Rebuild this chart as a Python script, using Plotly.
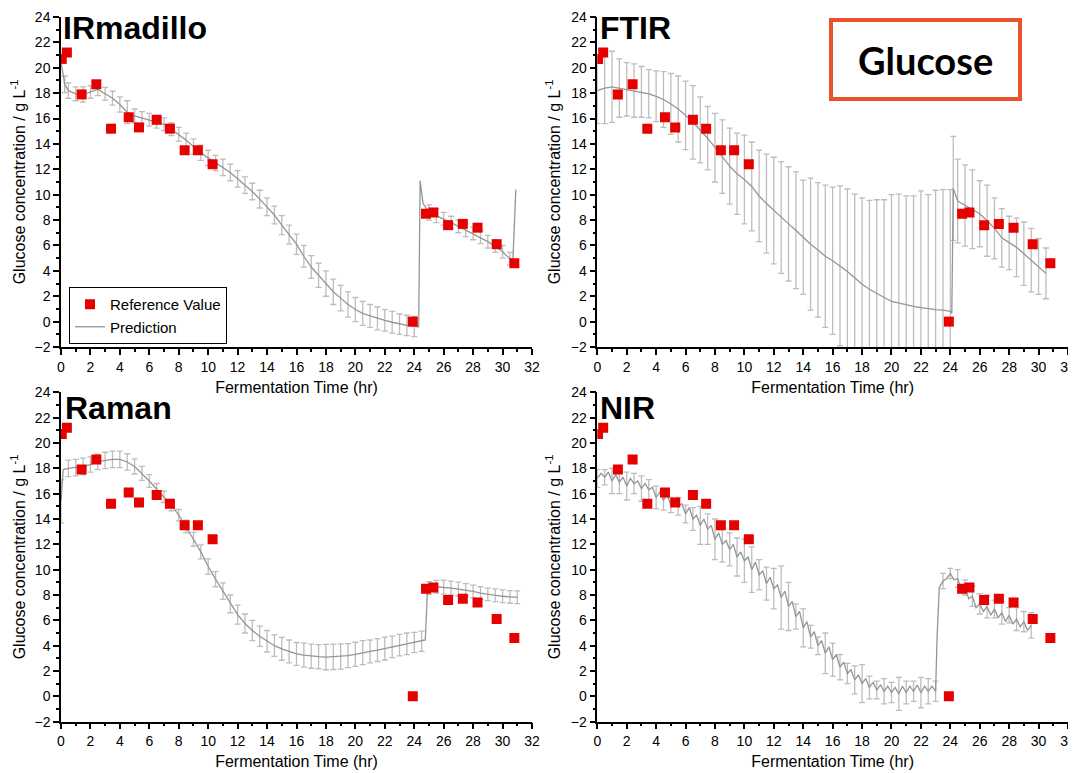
import plotly.graph_objects as go
from plotly.subplots import make_subplots

# %%
# off-line reference glucose (same samples shown in every panel)
ref_time = [0.05, 0.4, 1.4, 2.4, 3.4, 4.6, 5.3, 6.5, 7.4, 8.4, 9.3, 10.3,
            23.9, 24.8, 25.3, 26.3, 27.3, 28.3, 29.6, 30.8]
ref_glucose = [20.7, 21.2, 17.9, 18.7, 15.2, 16.1, 15.3, 15.9, 15.2, 13.5, 13.5, 12.4,
               0.0, 8.5, 8.6, 7.6, 7.7, 7.4, 6.1, 4.6]

# IRmadillo prediction (None = no error bar drawn at that point)
irm_time = [0, 0.25, 0.5, 1, 1.5, 2, 2.5, 3, 3.5, 4, 4.5, 5, 5.5, 6, 6.5, 7, 7.5, 8,
            8.5, 9, 9.5, 10, 10.5, 11, 11.5, 12, 12.5, 13, 13.5, 14, 14.5, 15, 15.5, 16,
            16.5, 17, 17.5, 18, 18.5, 19, 19.5, 20, 20.5, 21, 21.5, 22, 22.5, 23, 23.5, 24,
            24.3, 24.4, 24.6, 25, 25.5, 26, 26.5, 27, 27.5, 28, 28.5, 29, 29.5, 30, 30.5,
            30.7, 30.9]
irm_pred = [20.5, 18.7, 18.2, 17.95, 17.9, 18.1, 18.3, 17.95, 17.6, 17.1, 16.5, 16.2,
            16.05, 15.9, 15.75, 15.55, 15.15, 14.75, 14.3, 13.8, 13.3, 12.9, 12.5, 12.15,
            11.75, 11.25, 10.75, 10.25, 9.65, 9.05, 8.4, 7.6, 6.85, 6.1, 5.15, 4.3, 3.65,
            3.0, 2.35, 1.85, 1.35, 0.95, 0.65, 0.45, 0.25, 0.1, -0.05, -0.2, -0.3, -0.38,
            -0.42, 11.1, 9.3, 8.6, 8.35, 8.1, 7.8, 7.5, 7.2, 6.95, 6.65, 6.3, 5.95, 5.5,
            4.95, 4.75, 10.4]
irm_err = [None, 0.65, 0.6, 0.55, 0.6, 0.5, 0.5, 0.5, 0.55, 0.6, 0.9, 0.55, 0.5, 0.5,
           0.5, 0.5, 0.5, 0.55, 0.55, 0.6, 0.6, 0.6, 0.6, 0.65, 0.65, 0.65, 0.65, 0.65,
           0.7, 0.7, 0.7, 0.75, 0.75, 0.8, 0.85, 0.9, 0.95, 1.0, 1.0, 1.0, 1.0, 0.95, 0.95,
           0.9, 0.9, 0.85, 0.85, 0.8, 0.8, 0.8, None, None, None, 0.6, 0.55, 0.5, 0.5,
           0.5, 0.5, 0.5, 0.5, 0.5, 0.5, 0.5, 0.5, None, None]

# FTIR prediction
ftir_time = [0, 0.5, 1, 1.5, 2, 2.5, 3, 3.5, 4, 4.5, 5, 5.5, 6, 6.5, 7, 7.5, 8, 8.5, 9,
             9.5, 10, 10.5, 11, 11.5, 12, 12.5, 13, 13.5, 14, 14.5, 15, 15.5, 16, 16.5,
             17, 17.5, 18, 18.5, 19, 19.5, 20, 20.5, 21, 21.5, 22, 22.5, 23, 23.5, 24,
             24.1, 24.2, 24.5, 25, 25.5, 26, 26.5, 27, 27.5, 28, 28.5, 29, 29.5, 30, 30.5]
ftir_pred = [18.2, 18.4, 18.5, 18.4, 18.3, 18.2, 18.1, 17.95, 17.75, 17.5, 17.15, 16.75,
             16.25, 15.7, 15.1, 14.45, 13.7, 13.0, 12.25, 11.65, 11.2, 10.65, 9.9, 9.3,
             8.75, 8.2, 7.7, 7.2, 6.65, 6.1, 5.65, 5.15, 4.8, 4.4, 3.95, 3.45, 2.95, 2.55,
             2.2, 1.9, 1.6, 1.45, 1.3, 1.2, 1.1, 1.0, 0.95, 0.9, 0.8, 0.65, 10.5, 9.5,
             9.15, 8.85, 8.5, 7.95, 7.35, 6.6, 6.2, 5.85, 5.35, 4.85, 4.35, 3.8]
ftir_err = [2.6, 2.8, 2.8, 2.3, 2.1, 2.1, 2.0, 1.9, 2.0, 2.2, 2.4, 2.6, 2.7, 2.9, 2.6,
            2.5, 2.7, 2.9, 3.0, 3.2, 3.5, 3.5, 3.6, 3.9, 4.2, 4.4, 4.5, 4.6, 4.5, 5.2, 5.3,
            5.6, 5.8, 6.3, 6.5, 6.6, 6.8, 7.0, 7.4, 7.7, 8.4, 8.6, 8.6, 8.7, 9.2, 9.0,
            9.4, 9.5, 9.6, None, 4.1, 3.3, 3.2, 3.1, 2.6, 2.8, 2.4, 2.3, 2.1, 2.3, 2.5,
            2.5, 2.2, 2.0]

# Raman prediction
raman_time = [0, 0.15, 0.5, 1, 1.5, 2, 2.5, 3, 3.5, 4, 4.5, 5, 5.5, 6, 6.5, 7, 7.5, 8,
              8.5, 9, 9.5, 10, 10.5, 11, 11.5, 12, 12.5, 13, 13.5, 14, 14.5, 15, 15.5,
              16, 16.5, 17, 17.5, 18, 18.5, 19, 19.5, 20, 20.5, 21, 21.5, 22, 22.5, 23,
              23.5, 24, 24.5, 24.75, 24.9, 25, 25.5, 26, 26.5, 27, 27.5, 28, 28.5, 29,
              29.5, 30, 30.5, 31]
raman_pred = [15.4, 17.9, 18.0, 18.05, 18.15, 18.3, 18.5, 18.62, 18.7, 18.7, 18.5, 18.15,
              17.6, 17.0, 16.35, 15.75, 15.1, 14.3, 13.4, 12.4, 11.4, 10.25, 9.25, 8.3,
              7.3, 6.45, 5.75, 5.2, 4.75, 4.35, 4.0, 3.75, 3.55, 3.35, 3.25, 3.17, 3.13,
              3.1, 3.12, 3.15, 3.22, 3.32, 3.45, 3.55, 3.65, 3.77, 3.9, 4.05, 4.15, 4.25,
              4.35, 4.45, 8.5, 8.55, 8.65, 8.62, 8.55, 8.47, 8.4, 8.28, 8.15, 8.05, 7.98,
              7.9, 7.85, 7.82]
raman_err = [1.7, None, 0.65, 0.65, 0.65, 0.6, 0.6, 0.65, 0.65, 0.65, 0.65, 0.6, 0.55,
             0.5, 0.45, 0.45, 0.45, 0.45, 0.5, 0.55, 0.55, 0.6, 0.6, 0.65, 0.7, 0.75,
             0.75, 0.8, 0.8, 0.85, 0.85, 0.9, 0.9, 0.9, 0.95, 0.95, 0.95, 1.0, 1.0, 1.0,
             0.95, 0.95, 0.95, 0.9, 0.9, 0.9, 0.85, 0.85, 0.85, 0.8, 0.8, None, None, 0.5,
             0.5, 0.55, 0.55, 0.55, 0.5, 0.5, 0.5, 0.5, 0.5, 0.5, 0.5, 0.5]

# NIR prediction (noisy, sampled every 0.25 h; bars every 0.5 h)
nir_time = [0, 0.25, 0.5, 0.75, 1, 1.25, 1.5, 1.75, 2, 2.25, 2.5, 2.75, 3, 3.25, 3.5,
            3.75, 4, 4.25, 4.5, 4.75, 5, 5.25, 5.5, 5.75, 6, 6.25, 6.5, 6.75, 7, 7.25,
            7.5, 7.75, 8, 8.25, 8.5, 8.75, 9, 9.25, 9.5, 9.75, 10, 10.25, 10.5, 10.75, 11,
            11.25, 11.5, 11.75, 12, 12.25, 12.5, 12.75, 13, 13.25, 13.5, 13.75, 14, 14.25,
            14.5, 14.75, 15, 15.25, 15.5, 15.75, 16, 16.25, 16.5, 16.75, 17, 17.25, 17.5,
            17.75, 18, 18.25, 18.5, 18.75, 19, 19.25, 19.5, 19.75, 20, 20.25, 20.5, 20.75,
            21, 21.25, 21.5, 21.75, 22, 22.25, 22.5, 22.75, 23, 23.1, 23.25, 23.5, 23.75,
            24, 24.25, 24.5, 24.75, 25, 25.25, 25.5, 25.75, 26, 26.25, 26.5, 26.75, 27,
            27.25, 27.5, 27.75, 28, 28.25, 28.5, 28.75, 29, 29.25, 29.5]
nir_pred = [17.2, 17.6, 17.3, 17.7, 17.0, 17.5, 16.9, 17.3, 16.6, 17.2, 16.8, 17.0, 16.4,
            16.8, 16.3, 16.5, 15.7, 16.1, 15.5, 15.9, 15.1, 15.6, 15.0, 15.2, 14.4, 14.9,
            14.0, 14.3, 13.5, 14.0, 13.2, 13.5, 12.4, 12.9, 12.0, 12.3, 11.6, 12.0, 11.0,
            11.4, 10.7, 11.0, 10.0, 10.6, 9.6, 9.9, 8.9, 9.4, 8.5, 8.8, 7.8, 8.3, 7.1, 7.5,
            6.3, 6.7, 5.4, 5.9, 4.7, 5.1, 4.0, 4.4, 3.4, 3.9, 2.9, 3.3, 2.3, 2.7, 1.8, 2.1,
            1.3, 1.7, 1.0, 1.4, 0.7, 1.1, 0.5, 0.9, 0.4, 0.8, 0.3, 0.7, 0.2, 0.8, 0.3, 0.8,
            0.4, 0.9, 0.3, 0.8, 0.4, 0.8, 0.4, 4.7, 8.6, 9.1, 9.3, 9.7, 9.2, 9.3, 8.5, 8.6,
            7.7, 7.9, 7.0, 7.3, 6.7, 7.1, 6.4, 6.9, 6.2, 6.6, 5.9, 6.4, 5.7, 6.1, 5.5, 5.9,
            5.2, 5.6]
nir_err = [0.7, None, 0.6, None, 1.0, None, 0.9, None, 1.1, None, 0.8, None, 1.0, None,
           0.8, None, 0.9, None, 0.8, None, 0.6, None, 0.7, None, 0.7, None, 0.9, None,
           1.5, None, 1.2, None, 1.6, None, 1.4, None, 1.3, None, 1.5, None, 1.7, None,
           1.8, None, 1.2, None, 1.3, None, 1.6, None, 2.5, None, 1.9, None, 1.0, None,
           1.5, None, 0.9, None, 0.7, None, 1.6, None, 1.3, None, 1.0, None, 0.8, None,
           1.1, None, 1.5, None, 0.9, None, 0.7, None, 1.0, None, 0.8, None, 1.3, None,
           0.9, None, 0.8, None, 1.2, None, 1.0, None, 0.8, None, None, 0.6, None, 0.4,
           None, 0.7, None, 0.6, None, 0.8, None, 0.8, None, 0.9, None, 0.7, None, 0.9,
           None, 0.6, None, 0.9, None, 0.8, None, 1.0]

panels = [
    ("IRmadillo", irm_time, irm_pred, irm_err),
    ("FTIR", ftir_time, ftir_pred, ftir_err),
    ("Raman", raman_time, raman_pred, raman_err),
    ("NIR", nir_time, nir_pred, nir_err),
]

FONT = "Liberation Sans, Arial, sans-serif"
RED = "#E60000"
LINE_GREY = "#959595"
ERR_GREY = "#BDBDBD"

# the page body adds an 8 px margin, so the figure is a bit smaller than the window
PAGE_OFF = 8
W, H = 1076 - PAGE_OFF, 773 - PAGE_OFF


def px_x(x):
    return (x - PAGE_OFF) / W


def px_y(y):
    return 1 - (y - PAGE_OFF) / H


# %%
fig = make_subplots(rows=2, cols=2)

for i, (label, t, g, e) in enumerate(panels):
    row, col = i // 2 + 1, i % 2 + 1
    keep = [k for k, v in enumerate(e) if v is not None]
    # error bars only (invisible markers)
    fig.add_trace(
        go.Scatter(
            x=[t[k] for k in keep],
            y=[g[k] for k in keep],
            mode="markers",
            marker={"size": 1, "opacity": 0},
            error_y={"type": "data", "array": [e[k] for k in keep],
                     "color": ERR_GREY, "thickness": 1.3, "width": 3},
            showlegend=False,
            hoverinfo="skip",
        ),
        row=row, col=col,
    )
    fig.add_trace(
        go.Scatter(x=t, y=g, mode="lines", name="Prediction",
                   line={"color": LINE_GREY, "width": 1.3},
                   showlegend=(i == 0), legendrank=2),
        row=row, col=col,
    )
    fig.add_trace(
        go.Scatter(x=ref_time, y=ref_glucose, mode="markers", name="Reference Value",
                   marker={"symbol": "square", "size": 10, "color": RED},
                   showlegend=(i == 0), legendrank=1),
        row=row, col=col,
    )

axis_style = {
    "automargin": False,
    "showline": True,
    "linecolor": "black",
    "linewidth": 1.5,
    "ticks": "outside",
    "ticklen": 6,
    "tickwidth": 1.5,
    "tickcolor": "black",
    "showgrid": False,
    "zeroline": False,
    "tickfont": {"family": FONT, "size": 14, "color": "black"},
    "minor": {"ticks": "outside", "ticklen": 3, "tickwidth": 1.5,
              "tickcolor": "black", "dtick": 1, "showgrid": False},
}

x_domains = [(px_x(61), px_x(532)), (px_x(597.3), px_x(1068))]
y_domains = [(px_y(347), px_y(17)), (px_y(721.7), px_y(392.3))]

for i in range(4):
    row, col = i // 2 + 1, i % 2 + 1
    fig.update_xaxes(
        axis_style, row=row, col=col,
        range=[0, 32], tick0=0, dtick=2, domain=x_domains[col - 1],
        title={"text": "Fermentation Time (hr)", "standoff": 8,
               "font": {"family": FONT, "size": 16, "color": "black"}},
    )
    fig.update_yaxes(
        axis_style, row=row, col=col,
        range=[-2, 24], tick0=0, dtick=2, domain=y_domains[row - 1],
        title={"text": "Glucose concentration / g L<sup>-1</sup>", "standoff": 6,
               "font": {"family": FONT, "size": 16, "color": "black"}},
    )

# panel labels (box top given in window pixels)
label_pos = [(62, 8.5), (599, 8.5), (64, 389), (599, 389)]
for (label, *_), (px, py) in zip(panels, label_pos):
    fig.add_annotation(
        text=f"<b>{label}</b>", xref="paper", yref="paper",
        x=px_x(px), y=px_y(py), xanchor="left", yanchor="top", borderpad=0,
        showarrow=False, font={"family": FONT, "size": 32, "color": "black"},
    )

# "Glucose" box
fig.add_shape(type="rect", xref="paper", yref="paper",
              x0=px_x(831), x1=px_x(1020), y0=px_y(99), y1=px_y(20),
              line={"color": "#E8532B", "width": 4}, fillcolor="white")
fig.add_annotation(
    text="<b>Glucose</b>", xref="paper", yref="paper",
    x=px_x(925), y=px_y(60), xanchor="center", yanchor="middle",
    showarrow=False, font={"family": "Lato, Open Sans, sans-serif", "size": 38, "color": "black"},
)

fig.update_layout(
    width=W,
    height=H,
    margin={"l": 0, "r": 0, "t": 0, "b": 0, "autoexpand": False},
    paper_bgcolor="white",
    plot_bgcolor="white",
    font={"family": FONT, "color": "black"},
    legend={
        "x": px_x(69), "y": px_y(287), "xanchor": "left", "yanchor": "top",
        "bordercolor": "black", "borderwidth": 1, "bgcolor": "white",
        "font": {"family": FONT, "size": 15, "color": "black"},
        "tracegroupgap": 0,
    },
)

fig.write_html("out.html")
